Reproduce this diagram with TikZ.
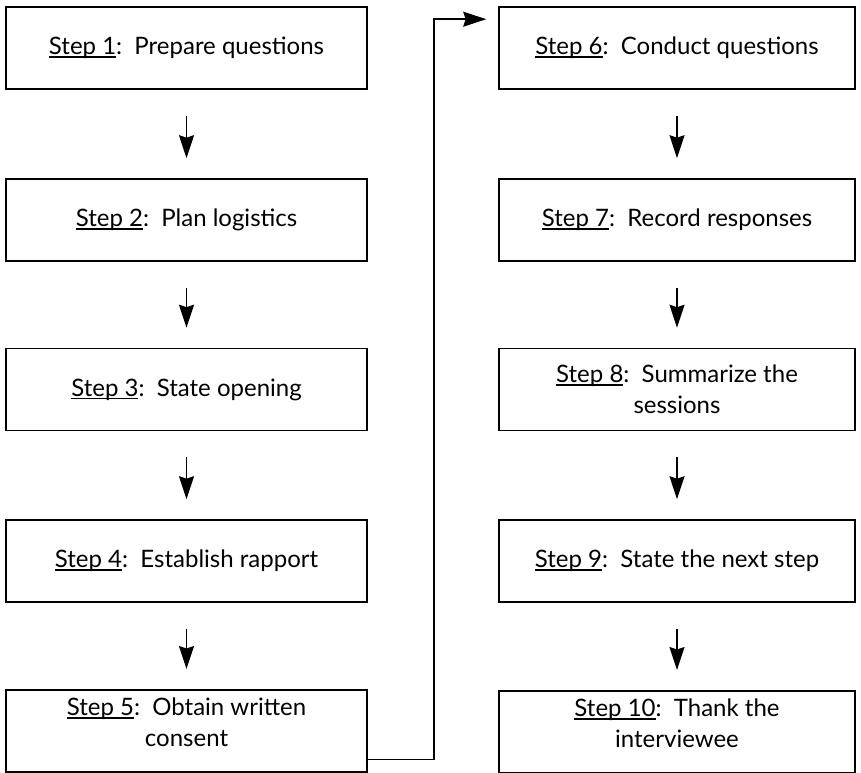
\documentclass[tikz,border=0pt]{standalone}
\usepackage{fontspec}
\setmainfont{Lato}
\usetikzlibrary{arrows.meta}

% underline that crosses the descenders, as in the printed steps
\newcommand\stepul[1]{\setbox0\hbox{#1}\rlap{\rule[-0.13em]{\wd0}{0.065em}}\box0}
\newcommand\steplabel[2]{\stepul{Step #1}:\ \ #2}

\begin{document}
\begin{tikzpicture}[x=1pt,y=-1pt,
  stepbox/.style={draw,line width=1.6pt,minimum height=82pt,align=center,
    inner sep=0pt,font=\fontsize{24}{31}\selectfont},
  leftbox/.style={stepbox,minimum width=361pt},
  rightbox/.style={stepbox,minimum width=356pt},
  flow/.style={line width=1.5pt,-{Stealth[length=23pt,width=15pt,inset=2.5pt]}},
  down/.style={flow,shorten <=26pt,shorten >=20pt}]
\useasboundingbox (0,0) rectangle (861,772);

% left column
\node[leftbox] (s1) at (186.5,48) {\steplabel{1}{Prepare questions}};
\node[leftbox] (s2) at (186.5,220) {\steplabel{2}{Plan logistics}};
\node[leftbox] (s3) at (186.5,389.5) {\steplabel{3}{State opening}};
\node[leftbox] (s4) at (186.5,561) {\steplabel{4}{Establish rapport}};
\node[leftbox,anchor=north] (s5) at (186.5,689) {\steplabel{5}{Obtain written}\\consent\\[-14pt]};

% right column
\node[rightbox] (s6) at (677,48) {\steplabel{6}{Conduct questions}};
\node[rightbox] (s7) at (677,220) {\steplabel{7}{Record responses}};
\node[rightbox] (s8) at (677,389.5) {\steplabel{8}{Summarize the}\\sessions};
\node[rightbox] (s9) at (677,561) {\steplabel{9}{State the next step}};
\node[rightbox,anchor=north] (s10) at (677,690) {\steplabel{10}{Thank the}\\interviewee\\[-14pt]};

% vertical flow arrows
\draw[down] (s1) -- (s2);
\draw[down] (s2) -- (s3);
\draw[down] (s3) -- (s4);
\draw[down] (s4) -- (s5);
\draw[down] (s6) -- (s7);
\draw[down] (s7) -- (s8);
\draw[down] (s8) -- (s9);
\draw[down] (s9) -- (s10);

% link from the bottom of the left column to the top of the right column
\draw[flow] ([yshift=13pt]s5.south east) -- ++(66,0)
  |- ([xshift=-12pt,yshift=-13pt]s6.north west);
\end{tikzpicture}
\end{document}
